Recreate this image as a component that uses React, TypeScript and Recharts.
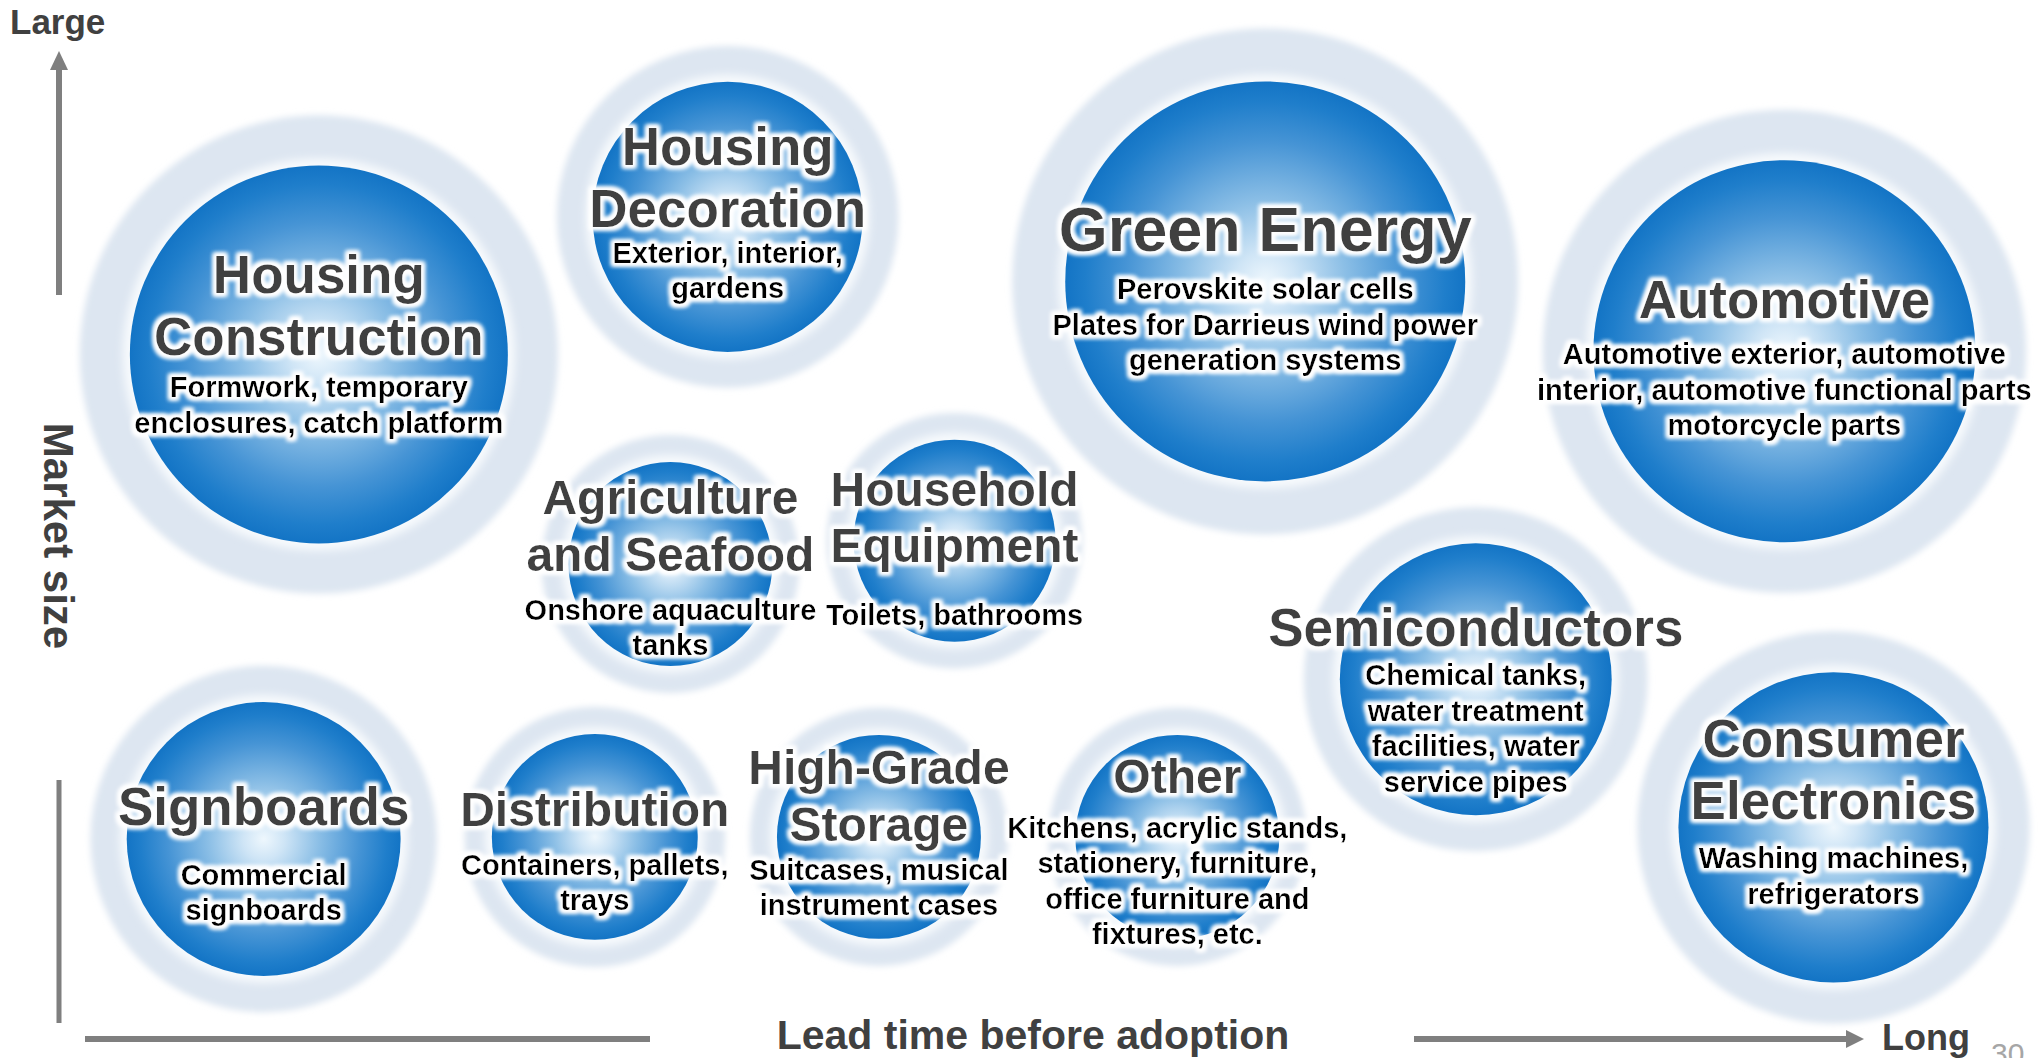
import { ScatterChart, Scatter, XAxis, YAxis, ZAxis, Customized } from "recharts";

const W = 2044;
const H = 1058;
const FONT = '"Liberation Sans", Arial, Helvetica, sans-serif';

// application fields, in drawing order
const sectors = [
  "Housing Construction",
  "Housing Decoration",
  "Green Energy",
  "Automotive",
  "Agriculture and Seafood",
  "Household Equipment",
  "Semiconductors",
  "Consumer Electronics",
  "Signboards",
  "Distribution",
  "High-Grade Storage",
  "Other",
];

const titleLines = [
  ["Housing", "Construction"],
  ["Housing", "Decoration"],
  ["Green Energy"],
  ["Automotive"],
  ["Agriculture", "and Seafood"],
  ["Household", "Equipment"],
  ["Semiconductors"],
  ["Consumer", "Electronics"],
  ["Signboards"],
  ["Distribution"],
  ["High-Grade", "Storage"],
  ["Other"],
];

const detailLines = [
  ["Formwork, temporary", "enclosures, catch platform"],
  ["Exterior, interior,", "gardens"],
  ["Perovskite solar cells", "Plates for Darrieus wind power", "generation systems"],
  ["Automotive exterior, automotive", "interior, automotive functional parts", "motorcycle parts"],
  ["Onshore aquaculture", "tanks"],
  ["Toilets, bathrooms"],
  ["Chemical tanks,", "water treatment", "facilities, water", "service pipes"],
  ["Washing machines,", "refrigerators"],
  ["Commercial", "signboards"],
  ["Containers, pallets,", "trays"],
  ["Suitcases, musical", "instrument cases"],
  ["Kitchens, acrylic stands,", "stationery, furniture,", "office furniture and", "fixtures, etc."],
];

// lead time before adoption (0 short .. 100 long)
const leadTime = [15.6, 35.6, 61.9, 87.3, 32.8, 46.7, 72.2, 89.7, 12.9, 29.1, 43.0, 57.6];
// market size (0 small .. 100 large)
const marketSize = [66.5, 79.5, 73.4, 66.8, 46.7, 48.9, 35.8, 21.8, 20.7, 20.9, 20.9, 20.9];
// bubble scale (area)
const bubbleScale = [89.3, 45.6, 100, 91.2, 26.0, 25.5, 46.2, 60.1, 46.9, 26.5, 26.0, 26.0];

// label placement relative to bubble centre (style)
const titleDy = [-80, -70, -52, -52, -66, -51, -52, -89, -32, -27, -69, -60];
const detailDy = [33, 36, 8, 3, 46, 74, -4, 31, 36, 28, 33, -9];

const data = sectors.map((name, i) => ({
  name,
  x: leadTime[i],
  y: marketSize[i],
  z: bubbleScale[i],
  title: titleLines[i],
  detail: detailLines[i],
  titleDy: titleDy[i],
  detailDy: detailDy[i],
}));

function radiusOf(props: any) {
  if (props.width) return props.width / 2;
  return Math.sqrt(Math.max(props.size || 0, 0) / Math.PI);
}

function Bubble(props: any) {
  const { cx, cy } = props;
  const r = radiusOf(props);
  return (
    <g>
      <circle cx={cx} cy={cy} r={r * 1.265} fill="#dde6f1" filter="url(#haloBlur)" />
      <circle cx={cx} cy={cy} r={r + 7} fill="#f7fafd" filter="url(#ringBlur)" />
      <circle cx={cx} cy={cy} r={r} fill="url(#ballFill)" />
    </g>
  );
}

function BubbleLabel(props: any) {
  const { cx, cy, payload } = props;
  const z = payload.z;
  const tSize = z >= 95 ? 63 : z >= 40 ? 53 : 48;
  const tStep = tSize * 1.17;
  return (
    <g fontFamily={FONT} fontWeight="bold" textAnchor="middle" filter="url(#textGlow)">
      {payload.title.map((t: string, i: number) => (
        <text key={"t" + i} x={cx} y={cy + payload.titleDy + i * tStep} fontSize={tSize} fill="#404040" dominantBaseline="central">
          {t}
        </text>
      ))}
      {payload.detail.map((t: string, i: number) => (
        <text key={"d" + i} x={cx} y={cy + payload.detailDy + i * 35.5} fontSize={29} fill="#000000" dominantBaseline="central">
          {t}
        </text>
      ))}
    </g>
  );
}

function AxisArrows() {
  const grey = "#7f7f7f";
  const ink = "#404040";
  return (
    <g fontFamily={FONT} fontWeight="bold" fill={ink}>
      <defs>
        <radialGradient id="ballFill" cx="50%" cy="50%" r="50%">
          <stop offset="0%" stopColor="#eef7fd" />
          <stop offset="15%" stopColor="#cfe5f6" />
          <stop offset="40%" stopColor="#8cbfe6" />
          <stop offset="70%" stopColor="#4694d5" />
          <stop offset="90%" stopColor="#1f7ecb" />
          <stop offset="100%" stopColor="#1374c5" />
        </radialGradient>
        <filter id="haloBlur" x="-10%" y="-10%" width="120%" height="120%">
          <feGaussianBlur stdDeviation="3" />
        </filter>
        <filter id="ringBlur" x="-10%" y="-10%" width="120%" height="120%">
          <feGaussianBlur stdDeviation="4" />
        </filter>
        <filter id="textGlow" x="-15%" y="-30%" width="130%" height="160%">
          <feMorphology in="SourceAlpha" operator="dilate" radius="2.5" result="d" />
          <feGaussianBlur in="d" stdDeviation="2" result="b" />
          <feFlood floodColor="#ffffff" />
          <feComposite in2="b" operator="in" result="g" />
          <feMerge>
            <feMergeNode in="g" />
            <feMergeNode in="g" />
            <feMergeNode in="SourceGraphic" />
          </feMerge>
        </filter>
      </defs>

      <text x={10} y={34} fontSize={35}>Large</text>
      <line x1={59} y1={68} x2={59} y2={295} stroke={grey} strokeWidth={6} />
      <polygon points="59,51 50,70 68,70" fill={grey} />
      <text transform="translate(58,536) rotate(90)" textAnchor="middle" dominantBaseline="central" fontSize={42}>
        Market size
      </text>
      <line x1={59} y1={780} x2={59} y2={1023} stroke={grey} strokeWidth={5} />

      <line x1={85} y1={1039} x2={650} y2={1039} stroke={grey} strokeWidth={6} />
      <text x={1033} y={1049} textAnchor="middle" fontSize={41}>Lead time before adoption</text>
      <line x1={1414} y1={1039} x2={1848} y2={1039} stroke={grey} strokeWidth={6} />
      <polygon points="1864,1039 1846,1030 1846,1048" fill={grey} />
      <text x={1882} y={1050} fontSize={36}>Long</text>
      <text x={1991} y={1064} fontSize={30} fontWeight="normal" fill="#a6a6a6">30</text>
    </g>
  );
}

export default function App() {
  return (
    <div style={{ position: "fixed", left: 0, top: 0, width: W, height: H, background: "#ffffff" }}>
      <ScatterChart width={W} height={H} margin={{ top: 0, right: 0, bottom: 0, left: 0 }}>
        <Customized component={AxisArrows} />
        <XAxis type="number" dataKey="x" domain={[0, 100]} hide />
        <YAxis type="number" dataKey="y" domain={[0, 100]} hide />
        <ZAxis type="number" dataKey="z" domain={[0, 100]} range={[0, Math.PI * 200 * 200]} />
        <Scatter data={data} shape={<Bubble />} isAnimationActive={false} />
        <Scatter data={data} shape={<BubbleLabel />} isAnimationActive={false} />
      </ScatterChart>
    </div>
  );
}
